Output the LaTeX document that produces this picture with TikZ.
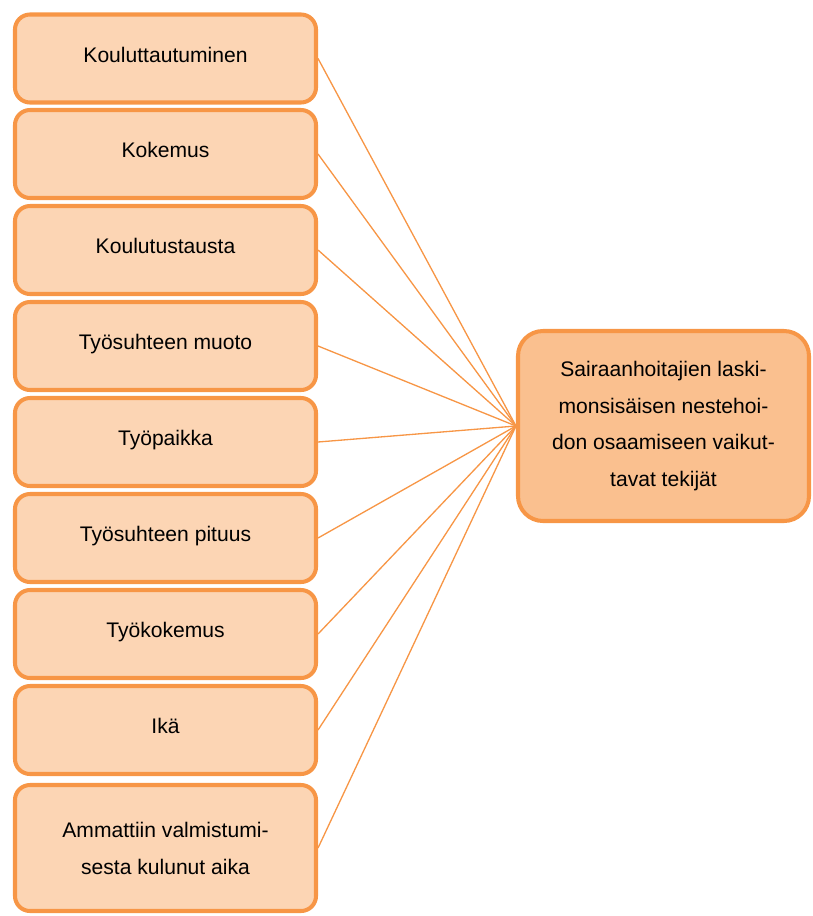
\documentclass[tikz,border=0pt]{standalone}
\usepackage{fontspec}
\setmainfont{Liberation Sans}
\usepackage{tikz}
\usetikzlibrary{positioning}
\definecolor{accent}{HTML}{F79646}
\definecolor{lightfill}{HTML}{FCD5B4}
\definecolor{darkfill}{HTML}{FAC08F}

\begin{document}
\begin{tikzpicture}[
    factor/.style={draw=accent, fill=lightfill, line width=2.3pt, rounded corners=0.3cm,
      minimum width=6.02cm, minimum height=1.76cm, align=center,
      font=\fontsize{12}{21}\selectfont, text height=9pt, text depth=4.7pt},
    outcome/.style={draw=accent, fill=darkfill, line width=2.3pt, rounded corners=0.5cm,
      minimum width=5.82cm, minimum height=3.8cm, align=center,
      font=\fontsize{12}{21}\selectfont},
    link/.style={draw=accent, line width=0.75pt}]
	\useasboundingbox (0,0) rectangle (16.26,-18.32);

	% factors on the left
	\node[factor] (koul) at (3.31,-1.17) {Kouluttautuminen};
	\node[factor] (kok) at (3.31,-3.08) {Kokemus};
	\node[factor] (tausta) at (3.31,-5.00) {Koulutustausta};
	\node[factor] (muoto) at (3.31,-6.92) {Työsuhteen muoto};
	\node[factor] (paikka) at (3.31,-8.84) {Työpaikka};
	\node[factor] (pituus) at (3.31,-10.76) {Työsuhteen pituus};
	\node[factor] (tyokok) at (3.31,-12.68) {Työkokemus};
	\node[factor] (ika) at (3.31,-14.60) {Ikä};
	\node[factor, minimum height=2.52cm, text height=, text depth=] (aika) at (3.31,-16.96)
	  {Ammattiin valmistumi-\\sesta kulunut aika};

	% outcome on the right
	\node[outcome] (osaam) at (13.27,-8.52)
	  {Sairaanhoitajien laski-\\monsisäisen nestehoi-\\don osaamiseen vaikut-\\tavat tekijät};

	% connecting lines
	\draw[link] (koul.east) -- (osaam.west);
	\draw[link] (kok.east) -- (osaam.west);
	\draw[link] (tausta.east) -- (osaam.west);
	\draw[link] (muoto.east) -- (osaam.west);
	\draw[link] (paikka.east) -- (osaam.west);
	\draw[link] (pituus.east) -- (osaam.west);
	\draw[link] (tyokok.east) -- (osaam.west);
	\draw[link] (ika.east) -- (osaam.west);
	\draw[link] (aika.east) -- (osaam.west);
\end{tikzpicture}
\end{document}
